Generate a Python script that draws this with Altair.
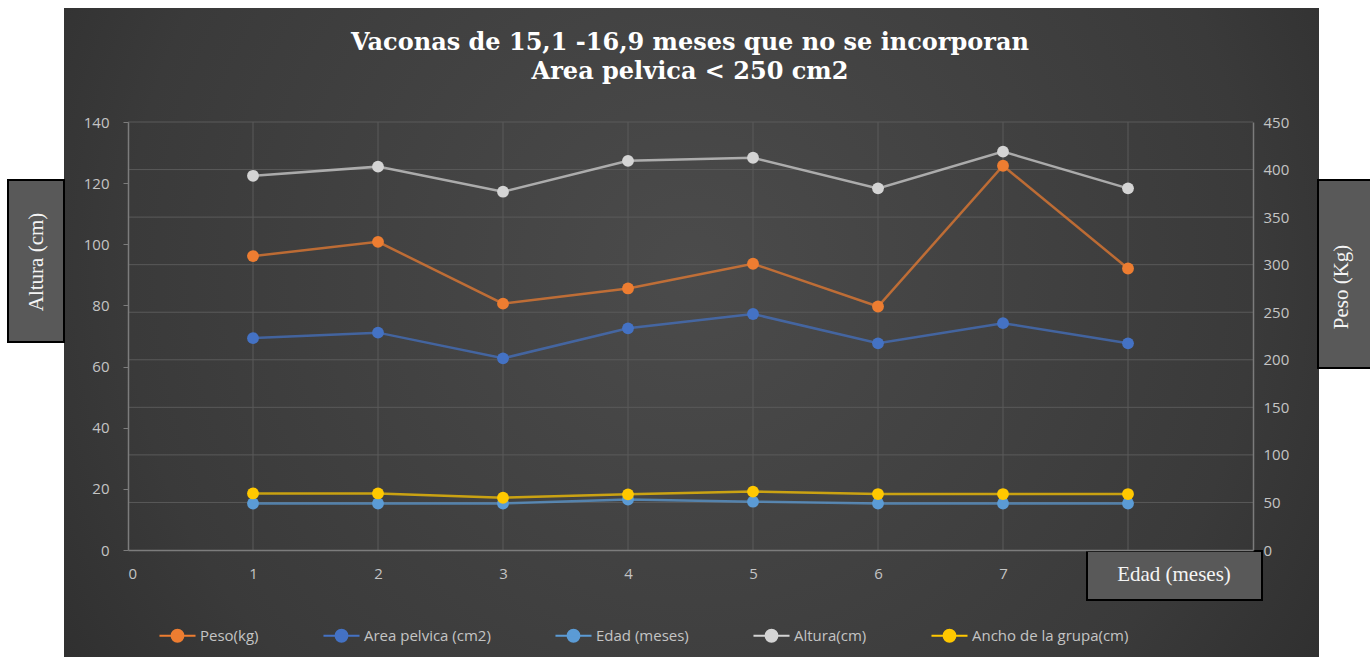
import altair as alt
import pandas as pd

# ---- data ----
obs = [1, 2, 3, 4, 5, 6, 7, 8]
peso = [309, 324, 259, 275, 301, 256, 404, 296]
area_pelvica = [69.3, 71.1, 62.7, 72.5, 77.2, 67.6, 74.2, 67.6]
edad = [15.2, 15.2, 15.2, 16.5, 15.8, 15.2, 15.2, 15.2]
altura = [122.4, 125.4, 117.2, 127.3, 128.3, 118.3, 130.3, 118.3]
ancho = [18.5, 18.5, 17.1, 18.2, 19.1, 18.3, 18.3, 18.3]

series = ["Peso(kg)", "Area pelvica (cm2)", "Edad (meses)", "Altura(cm)", "Ancho de la grupa(cm)"]
colors = ["#ED7D31", "#4472C4", "#5B9BD5", "#D4D4D4", "#FFC800"]

x_labels = list(range(0, 8))
x_grid = list(range(1, 9))
left_ticks = list(range(0, 141, 20))
right_ticks = list(range(0, 451, 50))

title_lines = ["Vaconas de 15,1 -16,9 meses que no se incorporan", "Area pelvica < 250 cm2"]

# ---- tables ----
left_rows = []
for name, vals in [(series[1], area_pelvica), (series[2], edad), (series[3], altura), (series[4], ancho)]:
    for n, v in zip(obs, vals):
        left_rows.append({"n": n, "serie": name, "valor": v})
left_df = pd.DataFrame(left_rows)
peso_df = pd.DataFrame({"n": obs, "serie": series[0], "peso": peso})
vgrid_df = pd.DataFrame({"n": x_grid})
hgrid_df = pd.DataFrame({"peso": right_ticks[1:]})

label_font = "Open Sans"
label_color = "#c4c4c4"
grid_color = "#5a5a5a"
axis_color = "#7c7c7c"

color_enc = alt.Color(
    "serie:N",
    scale=alt.Scale(domain=series, range=colors),
    legend=alt.Legend(
        title=None, orient="none", direction="horizontal",
        legendX=30, legendY=494,
        symbolType="M-1,0H1M0.33,0A0.33,0.33,0,1,1,-0.33,0A0.33,0.33,0,1,1,0.33,0Z",
        symbolSize=1300, symbolStrokeWidth=2,
        labelFont=label_font, labelFontSize=15, labelColor=label_color,
        labelOffset=3, columnPadding=60, labelLimit=400,
    ),
    sort=series,
)

x_scale = alt.Scale(domain=[0, 9], nice=False, zero=False)
x_enc = alt.X(
    "n:Q",
    scale=x_scale,
    axis=alt.Axis(
        values=x_labels, title=None, grid=False, zindex=1,
        domainColor=axis_color, domainWidth=1.5, tickSize=0, labelPadding=16,
        labelFont=label_font, labelFontSize=15, labelColor=label_color,
    ),
)

y_left = alt.Y(
    "valor:Q",
    scale=alt.Scale(domain=[0, 140], nice=False),
    axis=alt.Axis(
        values=left_ticks, orient="left", title=None, grid=False, zindex=1,
        tickSize=5, tickColor=axis_color, domainColor=axis_color, domainWidth=1.5,
        labelPadding=14, labelFont=label_font, labelFontSize=15, labelColor=label_color,
    ),
)

y_right_scale = alt.Scale(domain=[0, 450], nice=False)
y_right = alt.Y(
    "peso:Q",
    scale=y_right_scale,
    axis=alt.Axis(
        values=right_ticks, orient="right", title=None, grid=False, zindex=1,
        tickSize=0, domainColor=axis_color, domainWidth=1.5,
        labelPadding=10, labelFont=label_font, labelFontSize=15, labelColor=label_color,
    ),
)

left_base = alt.Chart(left_df)
left_group = alt.layer(
    left_base.mark_line(strokeWidth=2.5, strokeOpacity=0.72).encode(x=x_enc, y=y_left, color=color_enc),
    left_base.mark_point(filled=True, size=140, opacity=1).encode(x=x_enc, y=y_left, color=color_enc),
)

peso_base = alt.Chart(peso_df)
vgrid = alt.Chart(vgrid_df).mark_rule(color=grid_color, strokeWidth=1).encode(x=x_enc)
hgrid = alt.Chart(hgrid_df).mark_rule(color=grid_color, strokeWidth=1).encode(y=y_right)
peso_group = alt.layer(
    vgrid, hgrid,
    peso_base.mark_line(strokeWidth=2.5, strokeOpacity=0.72).encode(x=x_enc, y=y_right, color=color_enc),
    peso_base.mark_point(filled=True, size=140, opacity=1).encode(x=x_enc, y=y_right, color=color_enc),
)

one = alt.Data(values=[{"k": 1}])

background = alt.Chart(one).mark_rect(
    color=alt.Gradient(
        gradient="radial", x1=0.5, y1=0.45, r1=0.0, x2=0.5, y2=0.45, r2=0.75,
        stops=[alt.GradientStop(offset=0, color="#4b4b4b"),
               alt.GradientStop(offset=0.6, color="#3a3a3a"),
               alt.GradientStop(offset=1, color="#242424")],
    )
).encode(x=alt.value(-64), x2=alt.value(1191), y=alt.value(-114), y2=alt.value(535))

title_txt = alt.Chart(one).mark_text(
    font="DejaVu Serif", fontWeight="bold", fontSize=24, color="#ffffff",
    align="center", baseline="top", lineBreak="\n", lineHeight=29,
).encode(x=alt.value(562), y=alt.value(-91), text=alt.value("\n".join(title_lines)))

box_style = dict(fill="#595959", stroke="#000000", strokeWidth=2)
text_style = dict(font="Liberation Serif", fontSize=21, color="#f4f4f4")

box_altura = alt.Chart(one).mark_rect(**box_style).encode(
    x=alt.value(-120), x2=alt.value(-64), y=alt.value(58), y2=alt.value(220))
txt_altura = alt.Chart(one).mark_text(angle=270, align="center", baseline="middle", **text_style).encode(
    x=alt.value(-91), y=alt.value(140), text=alt.value("Altura (cm)"))

box_peso = alt.Chart(one).mark_rect(**box_style).encode(
    x=alt.value(1190), x2=alt.value(1250), y=alt.value(58), y2=alt.value(246))
txt_peso = alt.Chart(one).mark_text(angle=270, align="center", baseline="middle", **text_style).encode(
    x=alt.value(1214), y=alt.value(165), text=alt.value("Peso (Kg)"))

box_edad = alt.Chart(one).mark_rect(**box_style).encode(
    x=alt.value(959), x2=alt.value(1134), y=alt.value(429), y2=alt.value(478))
txt_edad = alt.Chart(one).mark_text(align="center", baseline="middle", **text_style).encode(
    x=alt.value(1046), y=alt.value(453), text=alt.value("Edad (meses)"))

chart = alt.layer(
    background, title_txt, peso_group, left_group,
    box_altura, txt_altura, box_peso, txt_peso, box_edad, txt_edad,
).resolve_scale(y="independent", color="shared").properties(
    width=1125, height=428,
    autosize=alt.AutoSizeParams(type="none"),
    padding={"left": 128, "top": 122, "right": 117, "bottom": 107},
).configure(background="#ffffff").configure_view(stroke=None)

chart.save("out.html", embed_options={"renderer": "svg", "actions": False})
